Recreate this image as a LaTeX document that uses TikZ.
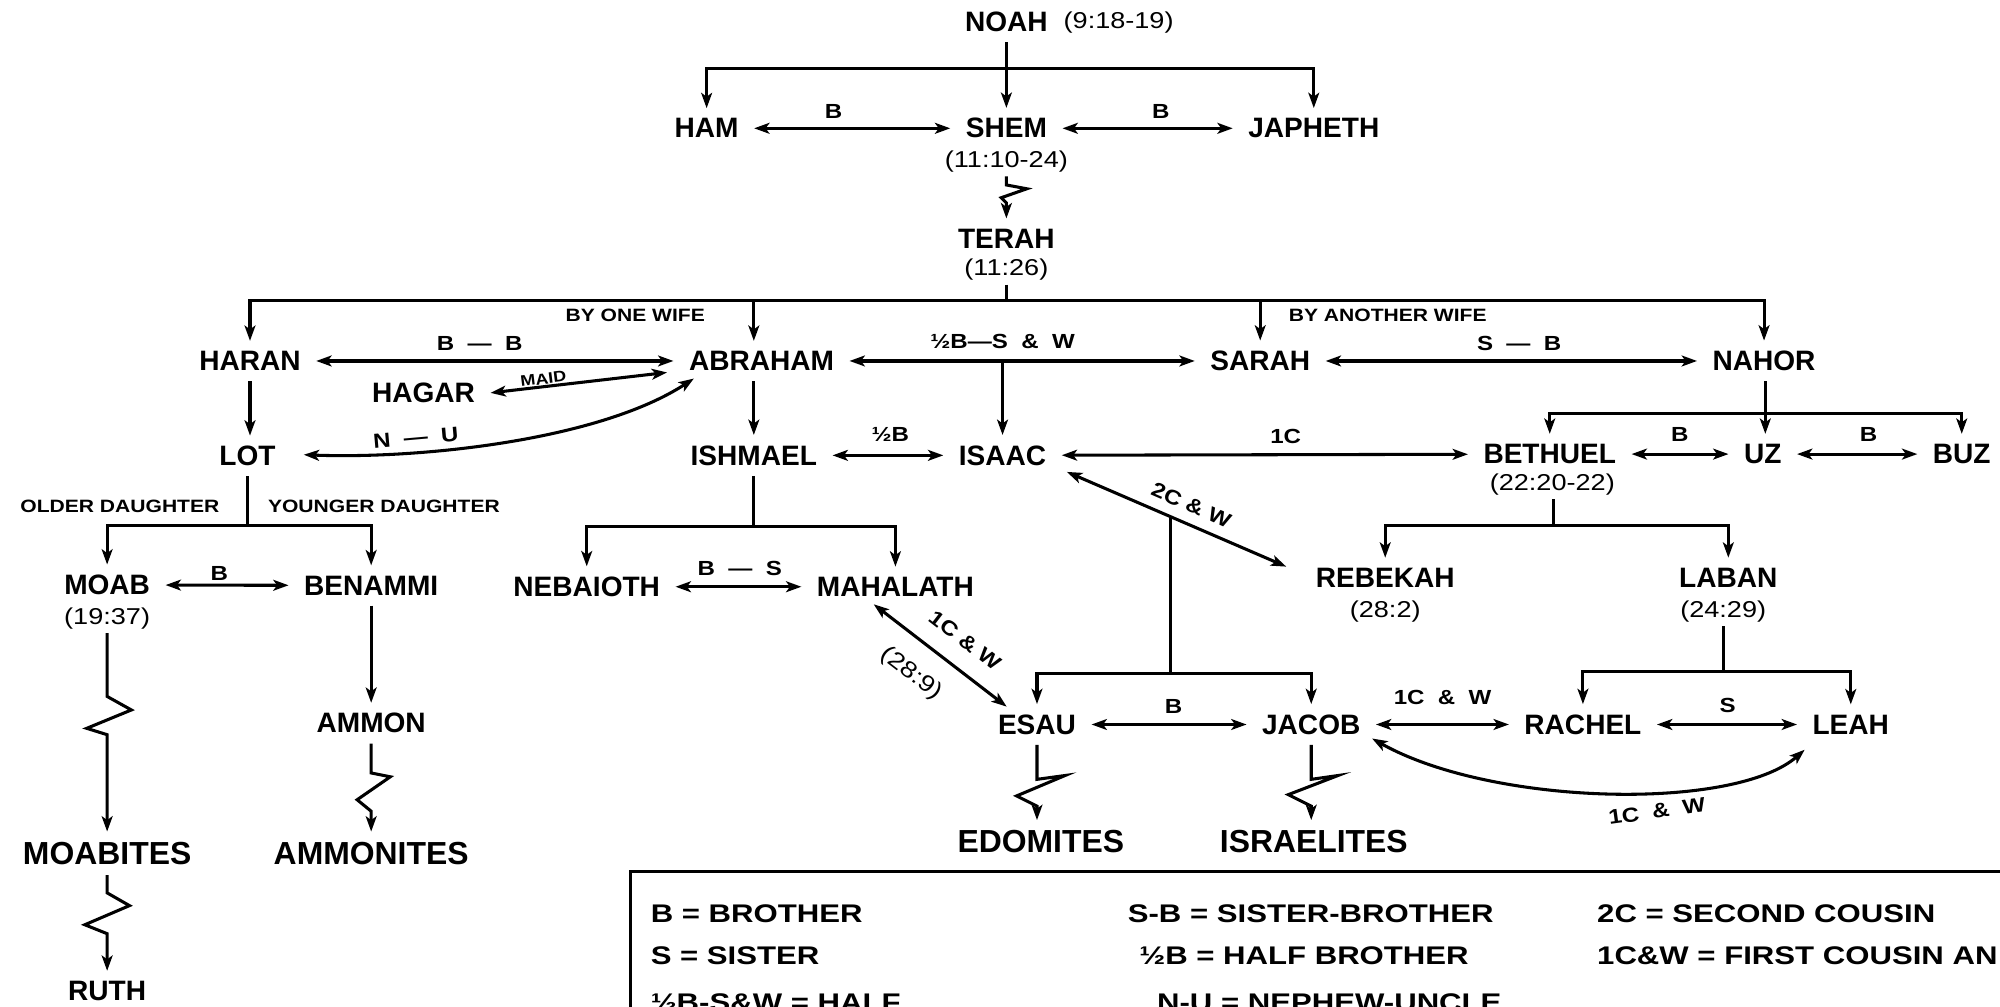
\documentclass[tikz,border=0pt]{standalone}
\usepackage{fontspec}
\setmainfont{Liberation Sans}
\newfontfamily\widefam[FakeStretch=1.18]{Liberation Sans}
\newfontfamily\widerfam[FakeStretch=1.22]{Liberation Sans}
\usetikzlibrary{arrows.meta,calc}
\begin{document}
\begin{tikzpicture}[x=1pt,y=-1pt,
 nm/.style={font=\fontsize{22}{24}\selectfont\bfseries, inner xsep=12pt, inner ysep=8pt},
 big/.style={font=\fontsize{25}{28}\selectfont\bfseries, inner xsep=12pt, inner ysep=8pt},
 rf/.style={font=\widefam\fontsize{18}{20}\selectfont, inner sep=3pt},
 lb/.style={font=\widefam\bfseries\fontsize{16}{18}\selectfont, inner sep=1pt},
 sml/.style={font=\widefam\bfseries\fontsize{12}{14}\selectfont, inner sep=1pt},
 capt/.style={font=\widefam\bfseries\fontsize{14}{16}\selectfont, inner sep=1pt},
 lg/.style={font=\widerfam\bfseries\fontsize{20}{22}\selectfont, anchor=west, inner sep=0pt},
 ln/.style={line width=2.4pt},
 tip/.tip={Stealth[length=12pt,width=8.5pt,inset=3pt]},
 arr/.style={ln, -tip},
 bi/.style={ln, tip-tip},
]
\useasboundingbox (0,0) rectangle (1568,789);
\fill[white] (0,0) rectangle (1568,789);
\clip (0,0) rectangle (1568,789);

% ---------- nodes ----------
\node[nm] (noah) at (789,17) {NOAH};
\node[rf] (noahref) at (877,18) {(9:18-19)};
\node[nm] (ham) at (554,100.6) {HAM};
\node[nm] (shem) at (789,100.6) {SHEM};
\node[nm] (japheth) at (1030,100.6) {JAPHETH};
\node[rf] (shemref) at (789,126.7) {(11:10-24)};
\node[nm] (terah) at (789,187) {TERAH};
\node[rf] (terahref) at (789,211.6) {(11:26)};
\node[nm] (haran) at (196,283) {HARAN};
\node[nm] (abraham) at (597,283) {ABRAHAM};
\node[nm] (sarah) at (988,283) {SARAH};
\node[nm] (nahor) at (1383,283) {NAHOR};
\node[nm] (hagar) at (332,308) {HAGAR};
\node[nm] (lot) at (194,357.5) {LOT};
\node[nm] (ishmael) at (591,357) {ISHMAEL};
\node[nm] (isaac) at (786,357) {ISAAC};
\node[nm] (bethuel) at (1215,356) {BETHUEL};
\node[rf] (bethref) at (1217,380) {(22:20-22)};
\node[nm] (uz) at (1382,356) {UZ};
\node[nm] (buz) at (1538,356) {BUZ};
\node[nm] (moab) at (84,458.6) {MOAB};
\node[rf] (moabref) at (84,484.7) {(19:37)};
\node[nm] (benammi) at (291,459) {BENAMMI};
\node[nm] (nebaioth) at (460,460) {NEBAIOTH};
\node[nm] (mahalath) at (702,460) {MAHALATH};
\node[nm] (rebekah) at (1086,453) {REBEKAH};
\node[rf] (rebref) at (1086,479.5) {(28:2)};
\node[nm] (laban) at (1355,453) {LABAN};
\node[rf] (labref) at (1351,479.5) {(24:29)};
\node[nm] (ammon) at (291,567) {AMMON};
\node[nm] (esau) at (813,568) {ESAU};
\node[nm] (jacob) at (1028,568) {JACOB};
\node[nm] (rachel) at (1241,568) {RACHEL};
\node[nm] (leah) at (1451,568) {LEAH};
\node[big] (moabites) at (84,669) {MOABITES};
\node[big] (ammonites) at (291,669) {AMMONITES};
\node[big] (edomites) at (816,660) {EDOMITES};
\node[big] (israelites) at (1030,660) {ISRAELITES};
\node[nm] (ruth) at (84,777) {RUTH};

% ---------- Noah ----------
\coordinate (nb) at (789,53.6);
\draw[ln] (noah.south) -- (nb);
\draw[arr] (nb) -| (ham.north);
\draw[arr] (nb) -| (japheth.north);
\draw[arr] (nb) -- (shem.north);
\draw[bi] (ham) -- (shem);
\draw[bi] (shem) -- (japheth);
\node[lb] at (653.6,87.5) {B};
\node[lb] at (910,87.5) {B};

% Shem -> Terah
\draw[arr] (shemref.south) -- (789,145) -- (805,148) -- (785,155) -- (789,159) -- (terah.north);

% ---------- Terah ----------
\coordinate (tb) at (789,235.5);
\draw[ln] (terahref.south) -- (tb);
\draw[arr] (tb) -| (haran.north);
\draw[arr] (tb) -| (nahor.north);
\draw[arr] (tb -| ishmael) -- (ishmael |- abraham.north);
\draw[arr] (tb -| sarah) -- (sarah.north);
\node[capt] at (498,247) {BY ONE WIFE};
\node[capt] at (1088,247) {BY ANOTHER WIFE};

% ---------- row 3 ----------
\draw[bi] (haran) -- (abraham);
\node[lb] at (376,269) {B\ \ —\ \ B};
\draw[bi] (hagar.east) -- ($(abraham.west)+(-5,9)$);
\node[sml, rotate=7] at (426,297) {MAID};
\draw[bi] ($(abraham.south west)+(16,-2)$) .. controls (470,345) and (330,360) .. ($(lot.east)+(10,-1)$);
\node[lb, rotate=5] at (326,343) {N\ \ —\ \ U};
\draw[bi] (abraham) -- (sarah);
\node[lb] at (786,268) {½B—S\ \ \&\ \ W};
\coordinate (as) at ($(abraham)!(isaac)!(sarah)$);
\draw[arr] (as) -- (isaac.north);
\draw[bi] (sarah) -- (nahor);
\node[lb] at (1191,269) {S\ \ —\ \ B};

% Haran -> Lot, Abraham -> Ishmael
\draw[arr] (haran.south) -- (haran.south |- lot.north);
\draw[arr] (abraham.south -| ishmael) -- (ishmael.north);

% ---------- Nahor's sons ----------
\coordinate (nhb) at (1384,324);
\draw[arr] (nahor.south -| nhb) -- (uz.north -| nhb);
\draw[arr] (nhb) -| (bethuel.north);
\draw[arr] (nhb) -| (buz.north);
\draw[bi] (ishmael) -- (isaac);
\node[lb] at (698,341) {½B};
\draw[bi] (isaac) -- (bethuel);
\node[lb] at (1008,342) {1C};
\draw[bi] (bethuel) -- (uz);
\node[lb] at (1317,341) {B};
\draw[bi] (uz) -- (buz);
\node[lb] at (1465,341) {B};

% ---------- Lot's daughters ----------
\coordinate (lotb) at (194,412);
\draw[ln] (lot.south) -- (lotb);
\draw[arr] (lotb) -| (moab.north);
\draw[arr] (lotb) -| (benammi.north);
\node[capt] at (94,397) {OLDER DAUGHTER};
\node[capt] at (301,397) {YOUNGER DAUGHTER};

% ---------- Ishmael's children ----------
\coordinate (ib) at (591,413);
\draw[ln] (ishmael.south) -- (ib);
\draw[arr] (ib) -| (nebaioth.north);
\draw[arr] (ib) -| (mahalath.north);
\draw[bi] (moab) -- (benammi);
\node[lb] at (172,449.5) {B};
\draw[bi] (nebaioth) -- (mahalath);
\node[lb] at (580,445.5) {B\ \ —\ \ S};

% ---------- Isaac & Rebekah ----------
\coordinate (ir1) at ($(isaac.south east)+(4,-3)$);
\coordinate (ir2) at ($(rebekah.north west)+(-11,7)$);
\draw[bi] (ir1) -- (ir2);
\node[lb, rotate=-23.5] at (934,396) {2C\ \&\ W};
\coordinate (irm) at ($(ir1)!0.474!(ir2)$);
\coordinate (ejb) at (918,527.8);
\draw[ln] (irm) -- (irm |- ejb);
\draw[arr] (irm |- ejb) -| (esau.north);
\draw[arr] (irm |- ejb) -| (jacob.north);

% ---------- Bethuel's children ----------
\coordinate (bb) at (1218,412.3);
\draw[ln] (bethref.south -| bb) -- (bb);
\draw[arr] (bb) -| (rebekah.north);
\draw[arr] (bb) -| (laban.north);

% Mahalath - Esau
\draw[bi] ($(mahalath.south)+(-17,-2)$) -- ($(esau.north west)+(19,2)$);
\node[lb, rotate=-37.5] at (757,502) {1C\ \&\ W};
\node[rf, rotate=-37.5] at (714,528) {(28:9)};

% ---------- Laban's daughters ----------
\coordinate (lab) at (1351,526.5);
\draw[ln] (labref.south) -- (lab);
\draw[arr] (lab) -| (rachel.north);
\draw[arr] (lab) -| (leah.north);

\draw[bi] (esau) -- (jacob);
\node[lb] at (920,554) {B};
\draw[bi] (jacob) -- (rachel);
\node[lb] at (1131,547) {1C\ \ \&\ \ W};
\draw[bi] (rachel) -- (leah);
\node[lb] at (1354.5,552.7) {S};
\draw[bi] ($(jacob.south east)+(-3,-5)$) .. controls (1170,632) and (1360,636) .. ($(leah.south west)+(6,4)$);
\node[lb, rotate=8] at (1299,636) {1C\ \ \&\ \ W};

% ---------- descendants ----------
\draw[arr] (benammi.south) -- (ammon.north);
\draw[arr] (moabref.south) -- (84,546) -- (103,556.6) -- (68,571) -- (84,576) -- (moabites.north);
\draw[arr] (ammon.south) -- (291,606) -- (306,609) -- (280,627) -- (291,636) -- (ammonites.north);
\draw[arr] (moabites.south) -- (84,700) -- (101.5,710) -- (66.5,725) -- (84,732) -- (ruth.north);
\draw[arr] (esau.south) -- (813,611) -- (835,608) -- (797,624) -- (813,632) -- (esau |- edomites.north);
\draw[arr] (jacob.south) -- (1028,611) -- (1049,608) -- (1010,623) -- (1028,632) -- (jacob |- israelites.north);

% ---------- legend ----------
\draw[line width=2.4pt] (494,830) -- (494,683) -- (1600,683);
\node[lg] (l1) at (510,716) {B = BROTHER};
\node[lg] (l2) at (510,749) {S = SISTER};
\node[lg] (l3) at (510,786) {½B-S\&W = HALF};
\node[lg] (l4) at (884,716) {S-B = SISTER-BROTHER};
\node[lg] (l5) at (893,749) {½B = HALF BROTHER};
\node[lg] (l6) at (907,786) {N-U = NEPHEW-UNCLE};
\node[lg] (l7) at (1252,716) {2C = SECOND COUSIN};
\node[lg] (l8) at (1252,749) {1C\&W = FIRST COUSIN AN};
\end{tikzpicture}
\end{document}
